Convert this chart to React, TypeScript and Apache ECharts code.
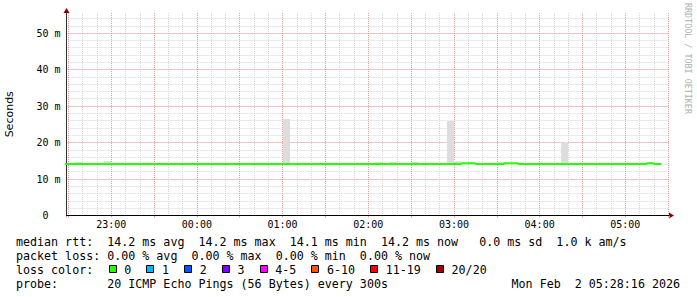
import React, { useEffect, useRef } from 'react';
import * as echarts from 'echarts';

// time in minutes relative to 00:00 (negative = previous evening)
const STEP_MIN = 5;
const FIRST_STEP_END = -90; // 22:30, first step covers 22:25-22:30
const X_MIN = -91.3;
const X_MAX = 330.6;
const Y_MIN = 0;
const Y_MAX = 55.5;

const X_MINOR = 10;
const X_MAJOR = 30;
const X_LABEL = 60;
const Y_MINOR = 2;
const Y_MAJOR = 10;

// median rtt per 5-minute step (ms)
const MEDIAN_MS = [
  14.1, 14.1, 14.1, 14.1, 14.1, 14.1, 14.1, 14.1, 14.1, 14.1, 14.1, 14.1,
  14.1, 14.1, 14.1, 14.1, 14.1, 14.1, 14.1, 14.1, 14.1, 14.1, 14.1, 14.1,
  14.1, 14.1, 14.1, 14.1, 14.1, 14.1, 14.1, 14.1, 14.1, 14.1, 14.1, 14.1,
  14.1, 14.1, 14.1, 14.1, 14.1, 14.1, 14.1, 14.1, 14.1, 14.1, 14.1, 14.1,
  14.1, 14.1, 14.1, 14.1, 14.1, 14.1, 14.1, 14.1, 14.3, 14.3, 14.1, 14.1,
  14.1, 14.1, 14.3, 14.3, 14.1, 14.1, 14.1, 14.1, 14.1, 14.1, 14.1, 14.1,
  14.1, 14.1, 14.1, 14.1, 14.1, 14.1, 14.1, 14.1, 14.1, 14.1, 14.3, 14.1,
];

// highest ping of each step (top of the smoke, ms)
const SMOKE_MAX_MS = [
  14.1, 14.1, 14.7, 14.1, 14.1, 14.1, 14.95, 14.1, 14.1, 14.1, 14.1, 14.1,
  14.1, 14.1, 14.1, 14.1, 14.1, 14.1, 14.1, 14.1, 14.1, 14.1, 14.1, 14.1,
  14.1, 14.1, 14.1, 14.1, 14.1, 14.1, 14.1, 26.5, 14.1, 14.1, 14.1, 14.1,
  14.1, 14.1, 14.1, 14.1, 14.1, 14.1, 14.1, 14.1, 14.7, 14.1, 14.7, 14.1,
  14.1, 14.7, 14.1, 14.1, 14.1, 14.1, 26.0, 14.95, 14.1, 14.1, 14.1, 14.1,
  14.1, 14.7, 14.1, 14.1, 14.1, 14.1, 14.1, 14.1, 14.1, 14.1, 20.2, 14.1,
  14.1, 14.1, 14.1, 14.1, 14.1, 14.1, 14.1, 14.1, 14.1, 14.1, 14.1, 14.1,
];

const LINE_MEDIAN = 'median rtt:  14.2 ms avg  14.2 ms max  14.1 ms min  14.2 ms now   0.0 ms sd  1.0 k am/s';
const LINE_LOSS = 'packet loss: 0.00 % avg  0.00 % max  0.00 % min  0.00 % now';
const LINE_COLOR = 'loss color:';
const LINE_PROBE = 'probe:       20 ICMP Echo Pings (56 Bytes) every 300s';
const DATE_TEXT = 'Mon Feb  2 05:28:16 2026';
const WATERMARK = 'RRDTOOL / TOBI OETIKER';

const LOSS_LABELS = ['0', '1', '2', '3', '4-5', '6-10', '11-19', '20/20'];
const LOSS_COLORS = ['#26ff00', '#00b8ff', '#0059ff', '#7e00ff', '#ff00ff', '#ff5500', '#ff0000', '#a10000'];

const MONO = '"DejaVu Sans Mono", monospace';
const CHAR_W = 7.02;
const LEG_FS = 11.66;

const nb = (s: string) => s.replace(/ /g, '\u00a0');

const fmtTime = (v: number) => {
  const m = ((Math.round(v) % 1440) + 1440) % 1440;
  const h = Math.floor(m / 60);
  const mm = m % 60;
  return `${String(h).padStart(2, '0')}:${String(mm).padStart(2, '0')}`;
};

export default function App() {
  const ref = useRef<HTMLDivElement>(null);

  useEffect(() => {
    if (!ref.current) return;
    const chart = echarts.init(ref.current, undefined, { renderer: 'svg' });

    const smokeData = MEDIAN_MS.map((v, i) => {
      const end = FIRST_STEP_END + i * STEP_MIN;
      return [end - STEP_MIN, end, v, SMOKE_MAX_MS[i]];
    });
    const lineData: number[][] = [[FIRST_STEP_END - STEP_MIN, MEDIAN_MS[0]]];
    MEDIAN_MS.forEach((v, i) => lineData.push([FIRST_STEP_END + i * STEP_MIN, v]));

    const minorColor = '#d6d6d6';
    const majorColor = '#e8a0a0';
    const arrowColor = '#8b0000';

    const xBase = { type: 'value', min: X_MIN, max: X_MAX, position: 'bottom', gridIndex: 0 };
    const yBase = { type: 'value', min: Y_MIN, max: Y_MAX, position: 'left', gridIndex: 0 };

    // legend color boxes
    const boxes: any[] = [];
    let bx = 16 + 13.2 * CHAR_W;
    LOSS_LABELS.forEach((lab, i) => {
      boxes.push({
        type: 'rect',
        shape: { x: Math.round(bx) + 0.5, y: 265.5, width: 7, height: 7 },
        style: { fill: LOSS_COLORS[i], stroke: '#000', lineWidth: 1 },
      });
      const tx = bx + 15.7;
      boxes.push({
        type: 'text', x: tx, y: 269.5,
        style: { text: nb(lab), fill: '#000', fontFamily: MONO, fontSize: LEG_FS, textAlign: 'left', textVerticalAlign: 'middle' },
      });
      bx = tx + lab.length * CHAR_W + 15;
    });

    const legendText = (text: string, y: number) => ({
      type: 'text', x: 16, y,
      style: { text: nb(text), fill: '#000', fontFamily: MONO, fontSize: LEG_FS, textAlign: 'left', textVerticalAlign: 'middle' },
    });

    chart.setOption({
      animation: false,
      backgroundColor: '#ffffff',
      grid: { left: 66.5, right: 28, top: 13, bottom: 81.5, containLabel: false, outerBoundsMode: 'none' },
      xAxis: [
        {
          ...xBase, z: 1,
          minInterval: X_MINOR, maxInterval: X_MINOR,
          axisLine: { show: true, onZero: false, lineStyle: { color: arrowColor, width: 1 }, symbol: ['none', 'triangle'], symbolSize: [6, 5], symbolOffset: [0, 2.5] },
          axisTick: { show: false },
          axisLabel: { show: false },
          splitLine: { show: true, showMinLine: false, showMaxLine: false, lineStyle: { color: minorColor, width: 1, type: [1, 1] } },
        },
        {
          ...xBase, z: 2,
          minInterval: X_MAJOR, maxInterval: X_MAJOR,
          axisLine: { show: false, onZero: false },
          axisTick: { show: true, length: 2, lineStyle: { color: majorColor } },
          axisLabel: { show: false },
          splitLine: { show: true, showMinLine: false, showMaxLine: false, lineStyle: { color: majorColor, width: 1, type: [1, 1] } },
        },
        {
          ...xBase, z: 3,
          minInterval: X_LABEL, maxInterval: X_LABEL,
          axisLine: { show: true, onZero: false, lineStyle: { color: '#000', width: 1 } },
          axisTick: { show: false },
          splitLine: { show: false },
          axisLabel: {
            show: true, showMinLabel: false, showMaxLabel: false, margin: 4,
            color: '#000', fontFamily: MONO, fontSize: 10,
            formatter: (v: number) => fmtTime(v),
          },
        },
      ],
      yAxis: [
        {
          ...yBase, z: 1, interval: Y_MINOR,
          axisLine: { show: true, onZero: false, lineStyle: { color: arrowColor, width: 1 }, symbol: ['none', 'triangle'], symbolSize: [6, 5], symbolOffset: [0, 2.5] },
          axisTick: { show: false },
          axisLabel: { show: false },
          splitLine: { show: true, showMinLine: false, showMaxLine: false, lineStyle: { color: minorColor, width: 1, type: [1, 1] } },
        },
        {
          ...yBase, z: 2, interval: Y_MAJOR,
          name: 'Seconds', nameLocation: 'middle', nameGap: 52,
          nameTextStyle: { color: '#000', fontFamily: '"DejaVu Sans", sans-serif', fontSize: 11 },
          axisLine: { show: true, onZero: false, lineStyle: { color: '#333', width: 1 } },
          axisTick: { show: false },
          axisLabel: {
            show: true, showMaxLabel: false, margin: 6, color: '#000', fontFamily: MONO, fontSize: 10,
            formatter: (v: number) => (v === 0 ? '0\u00a0\u00a0' : `${v}\u00a0m`),
          },
          splitLine: { show: true, showMinLine: false, showMaxLine: false, lineStyle: { color: majorColor, width: 1, type: [1, 1] } },
        },
      ],
      series: [
        {
          type: 'custom',
          name: 'smoke',
          xAxisIndex: 0, yAxisIndex: 0, z: 5,
          encode: { x: [0, 1], y: [2, 3] },
          data: smokeData,
          renderItem: (params: any, api: any) => {
            const x0 = api.value(0), x1 = api.value(1), lo = api.value(2), hi = api.value(3);
            if (!(hi > lo)) return { type: 'group', children: [] };
            const p0 = api.coord([x0, hi]);
            const p1 = api.coord([x1, lo]);
            const cs = params.coordSys;
            const shape = echarts.graphic.clipRectByRect(
              { x: Math.round(p0[0]), y: Math.round(p0[1]), width: Math.round(p1[0]) - Math.round(p0[0]), height: p1[1] - Math.round(p0[1]) },
              { x: cs.x, y: cs.y, width: cs.width, height: cs.height }
            );
            if (!shape) return { type: 'group', children: [] };
            return { type: 'rect', shape, style: { fill: '#dddddd' } };
          },
        },
        {
          type: 'line',
          name: 'median',
          xAxisIndex: 0, yAxisIndex: 0, z: 6,
          step: 'start',
          symbol: 'none', showSymbol: false,
          lineStyle: { color: '#26ff00', width: 2 },
          clip: true,
          data: lineData,
        },
      ],
      graphic: [
        {
          type: 'text', x: 688, y: 3, rotation: -Math.PI / 2,
          style: { text: nb(WATERMARK), fill: '#b0b0b0', fontFamily: MONO, fontSize: 8.4, textAlign: 'left', textVerticalAlign: 'middle' },
        },
        legendText(LINE_MEDIAN, 241.5),
        legendText(LINE_LOSS, 255.5),
        legendText(LINE_COLOR, 269.5),
        legendText(LINE_PROBE, 283.5),
        {
          type: 'text', x: 680, y: 283.5,
          style: { text: nb(DATE_TEXT), fill: '#000', fontFamily: MONO, fontSize: LEG_FS, textAlign: 'right', textVerticalAlign: 'middle' },
        },
        ...boxes,
      ],
    });

    return () => chart.dispose();
  }, []);

  return (
    <div
      ref={ref}
      style={{ position: 'fixed', left: 0, top: 0, width: 697, height: 297, background: '#fff' }}
    />
  );
}
